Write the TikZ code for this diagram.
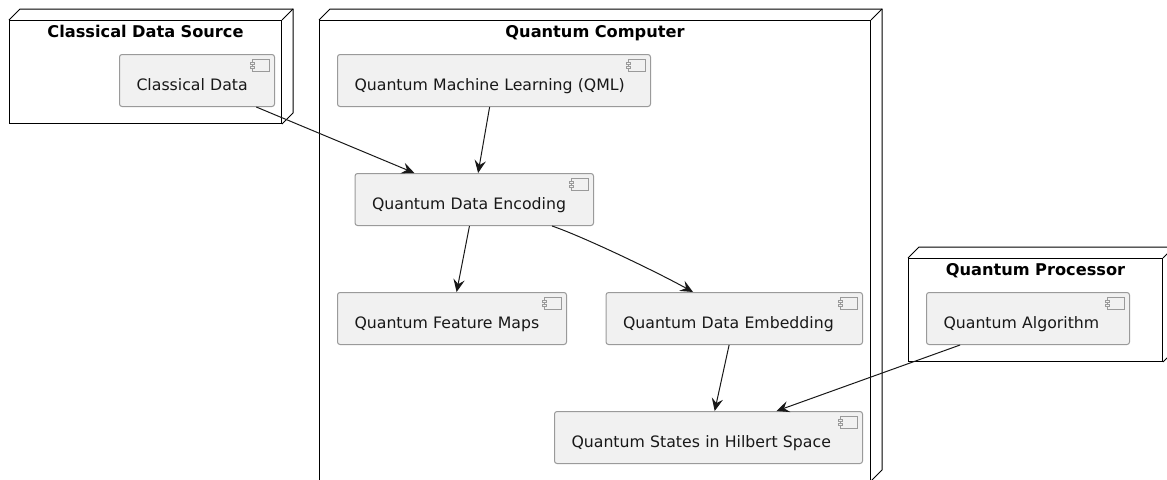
\documentclass[tikz,border=0pt]{standalone}
\usepackage{fontspec}
\setmainfont{DejaVu Sans}
\usetikzlibrary{arrows.meta,calc}
\definecolor{boxfill}{HTML}{F1F1F1}
\definecolor{boxline}{HTML}{9A9A9A}
\definecolor{ink}{HTML}{181818}
\tikzset{
  x=.75pt,y=-.75pt,
  comp/.style={draw=boxline,fill=boxfill,rounded corners=1.9pt,line width=.75pt,text=ink,
    font=\fontsize{11.8}{14}\selectfont,inner ysep=0pt,inner xsep=12.75pt,align=left,text height=27pt,text depth=12pt},
  outer/.style={draw=black,line width=.75pt,inner sep=0pt,align=center,text=black,
    font=\bfseries\fontsize{12.15}{14}\selectfont,text height=12.75pt},
  depth/.style={draw=black,line width=.75pt,line join=miter},
  icon/.style={draw=boxline,fill=boxfill,line width=.75pt},
  conn/.style={draw=ink,line width=.75pt,-{Stealth[length=9.5pt,width=8.5pt,inset=3.5pt]}},
}
% name, left, top, right, bottom, text
\newcommand\compbox[6]{%
  \pgfmathsetmacro\wid{(#4-#2)*.75}\pgfmathsetmacro\tw{(#4-#2-34)*.75}
  \node[comp,anchor=north west,text width=\tw pt,minimum width=\wid pt] (#1) at (#2,#3) {#6};
  \draw[icon] ([xshift=-17pt,yshift=-3.75pt]#1.north east) rectangle ([xshift=-4.5pt,yshift=-12.75pt]#1.north east);
  \draw[icon] ([xshift=-18.75pt,yshift=-6pt]#1.north east) rectangle ([xshift=-15.4pt,yshift=-7.5pt]#1.north east);
  \draw[icon] ([xshift=-18.75pt,yshift=-9pt]#1.north east) rectangle ([xshift=-15.4pt,yshift=-10.5pt]#1.north east);
}
% name, left, top, right, bottom, title
\newcommand\outerbox[6]{%
  \pgfmathsetmacro\wid{(#4-#2)*.75}\pgfmathsetmacro\dep{(#5-#3-17)*.75}
  \node[outer,anchor=north west,text width=\wid pt,text depth=\dep pt] (#1) at (#2,#3) {#6};
  \draw[depth] (#1.north west) -- ++(8.25pt,8.25pt) -- ($(#1.north east)+(8.25pt,8.25pt)$) -- ($(#1.south east)+(8.25pt,8.25pt)$) -- (#1.south east);
  \draw[depth] (#1.north east) -- ++(8.25pt,8.25pt);
}
\begin{document}
\begin{tikzpicture}
\useasboundingbox (0,0) rectangle (1167,479);
\clip (0,0) rectangle (1167,479);
\outerbox{src}{9}{20}{281}{123}{Classical Data Source}
\outerbox{qc}{319}{20}{870}{480}{Quantum Computer}
\outerbox{qp}{908}{258}{1162}{361}{Quantum Processor}
\compbox{cd}{119}{54}{274}{106}{Classical Data}
\compbox{qml}{337}{54}{650}{106}{Quantum Machine Learning (QML)}
\compbox{enc}{354.5}{173}{593}{224.5}{Quantum Data Encoding}
\compbox{fm}{337}{292}{566}{343.5}{Quantum Feature Maps}
\compbox{emb}{605.5}{292}{862}{343.5}{Quantum Data Embedding}
\compbox{hil}{554}{411}{862}{463}{Quantum States in Hilbert Space}
\compbox{alg}{926}{292}{1129}{343.5}{Quantum Algorithm}
\draw[conn] ($(cd.south west)!.88!(cd.south east)$) -- ($(enc.north west)!.25!(enc.north east)$);
\draw[conn] ($(qml.south west)!.486!(qml.south east)$) -- ($(enc.north west)!.516!(enc.north east)$);
\draw[conn] ($(enc.south west)!.48!(enc.south east)$) -- ($(fm.north west)!.52!(fm.north east)$);
\draw[conn] ($(enc.south west)!.825!(enc.south east)$) .. controls +(22pt,-7.5pt) and +(-30pt,16.5pt) .. ($(emb.north west)!.34!(emb.north east)$);
\draw[conn] ($(emb.south west)!.48!(emb.south east)$) -- ($(hil.north west)!.52!(hil.north east)$);
\draw[conn] ($(alg.south west)!.167!(alg.south east)$) -- ($(hil.north west)!.72!(hil.north east)$);
\end{tikzpicture}
\end{document}
